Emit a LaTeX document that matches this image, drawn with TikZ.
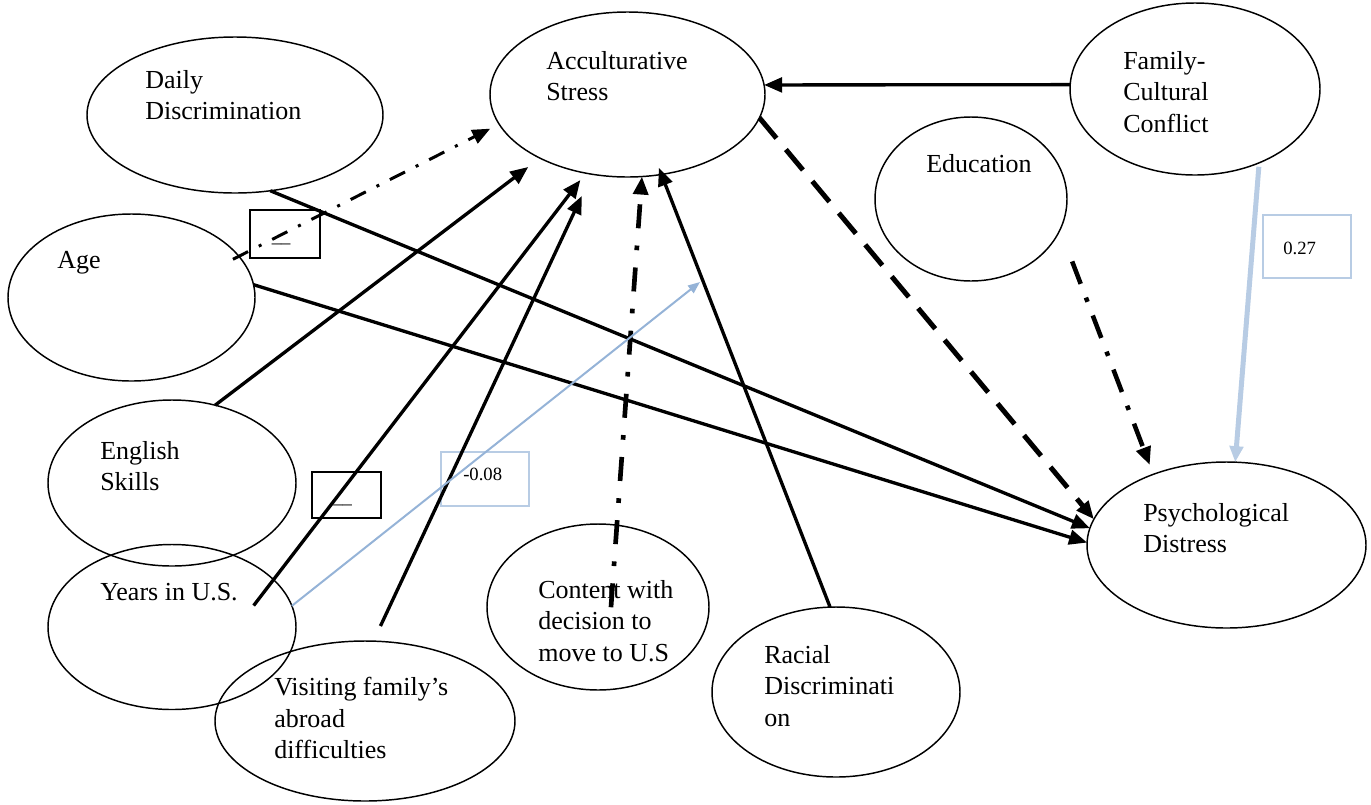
\documentclass[tikz,border=0pt]{standalone}
\usepackage{fontspec}
\setmainfont{Liberation Serif}
\usepackage{xcolor}
\usetikzlibrary{arrows.meta, shapes.geometric}

\definecolor{paleblue}{RGB}{184,204,228}
\definecolor{lineblue}{RGB}{149,179,215}

\tikzset{
  oval/.style 2 args={ellipse, draw, line width=1.1pt, inner sep=0pt, outer sep=0pt,
    minimum width=#1*0.75pt, minimum height=#2*0.75pt},
  lbl/.style={anchor=west, align=left, inner sep=0pt, font=\fontsize{19.5}{23.5}\selectfont},
  tagbox/.style 2 args={rectangle, draw, line width=1.1pt, inner sep=0pt,
    minimum width=#1*0.75pt, minimum height=#2*0.75pt},
  tagtext/.style={inner sep=0pt, font=\fontsize{14}{16}\selectfont},
  path/.style={line width=2.5pt, -{Triangle[length=13.5pt,width=11pt]}},
}

\begin{document}
\begin{tikzpicture}[x=0.75pt, y=-0.75pt]
\useasboundingbox (0,0) rectangle (1371,804);

% Variabile - elipse
\node[oval={296}{156}] (daily) at (235,115) {};
\node[oval={275}{165}] (acc) at (627.5,94.5) {};
\node[oval={250}{172}] (fam) at (1195,89) {};
\node[oval={192}{164}] (edu) at (971,199) {};
\node[oval={247}{167}] (age) at (131.5,297.5) {};
\node[oval={248}{166}] (eng) at (172,483) {};
\node[oval={248}{165}] (yrs) at (172,627) {};
\node[oval={300}{160}] (visit) at (365,721) {};
\node[oval={222}{166}] (cont) at (598,607) {};
\node[oval={248}{170}] (racial) at (836,692) {};
\node[oval={279}{166}] (psych) at (1226.5,545) {};

% Texte
\node[lbl] (daily-t) at (145,95) {Daily\\Discrimination};
\node[lbl] (acc-t) at (546,76) {Acculturative\\Stress};
\node[lbl] (fam-t) at (1123,92) {Family-\\Cultural\\Conflict};
\node[lbl] (edu-t) at (926,164) {Education};
\node[lbl] (age-t) at (57,263) {Age};
\node[lbl] (eng-t) at (100,466) {English\\Skills};
\node[lbl] (yrs-t) at (100,592) {Years in U.S.};
\node[lbl] (visit-t) at (274,718) {Visiting family’s\\abroad\\difficulties};
\node[lbl] (cont-t) at (538,621) {Content with\\decision to\\move to U.S};
\node[lbl] (racial-t) at (764,686) {Racial\\Discriminati\\on};
\node[lbl] (psych-t) at (1143,528) {Psychological\\Distress};

% Casete mici
\node[tagbox={70}{48}] (box1) at (285,234) {};
\node[tagtext, anchor=base west] (box1-t) at (271.5,242) {\_\_};
\node[tagbox={69}{46}] (box2) at (346.5,495) {};
\node[tagtext, anchor=base west] (box2-t) at (333,503) {\_\_};
\node[tagbox={88}{54}, draw=paleblue] (b08) at (485,479) {};
\node[tagtext, anchor=west] (b08-t) at (463,474) {-0.08};
\node[tagbox={88}{63}, draw=paleblue] (b27) at (1307,246.5) {};
\node[tagtext, anchor=west] (b27-t) at (1283,248) {0.27};

% Sageti continue
\draw[path] (fam.178) -- (acc.4);
\draw[path] (daily.-65) -- (psych.173);
\draw[path] (age.6) -- (psych.179);
\draw[path, shorten >=11pt] (eng.61) -- (acc.216);
\draw[path, shorten <=-24.5pt, shorten >=6.6pt] (yrs.25) -- (acc.242);
\draw[path, shorten <=12.5pt, shorten >=18pt] (visit.84) -- (acc.246);
\draw[path, shorten >=-5.3pt] (racial.94) -- (acc.293);

% Sageti intrerupte
\draw[path, line width=2.25pt, dash pattern=on 12.75pt off 9pt on 2.25pt off 9pt,
  shorten <=-5pt, shorten >=7.5pt] (age.21) -- (acc.193);
\draw[path, line width=3.5pt, dash pattern=on 18pt off 13pt on 3.5pt off 13pt,
  shorten <=-61.7pt] (cont.77) -- (acc.280);
\draw[path, line width=3.75pt, dash pattern=on 20pt off 11pt] (acc.350) -- (psych.169);
\draw[path, line width=3.4pt, dash pattern=on 18pt off 11pt on 3.4pt off 11pt,
  shorten <=25.5pt, shorten >=7.5pt] (edu.-19) -- (psych.136);

% Sageti albastre
\coordinate (blue-end) at (700,282);
\draw[lineblue, line width=1.5pt, -{Triangle[length=9pt,width=7pt]}] (yrs.10) -- (blue-end);
\draw[paleblue, line width=3.75pt, -{Triangle[length=12pt,width=10pt]}, shorten <=3pt]
  (fam.-49) -- (psych.84);

\end{tikzpicture}
\end{document}
